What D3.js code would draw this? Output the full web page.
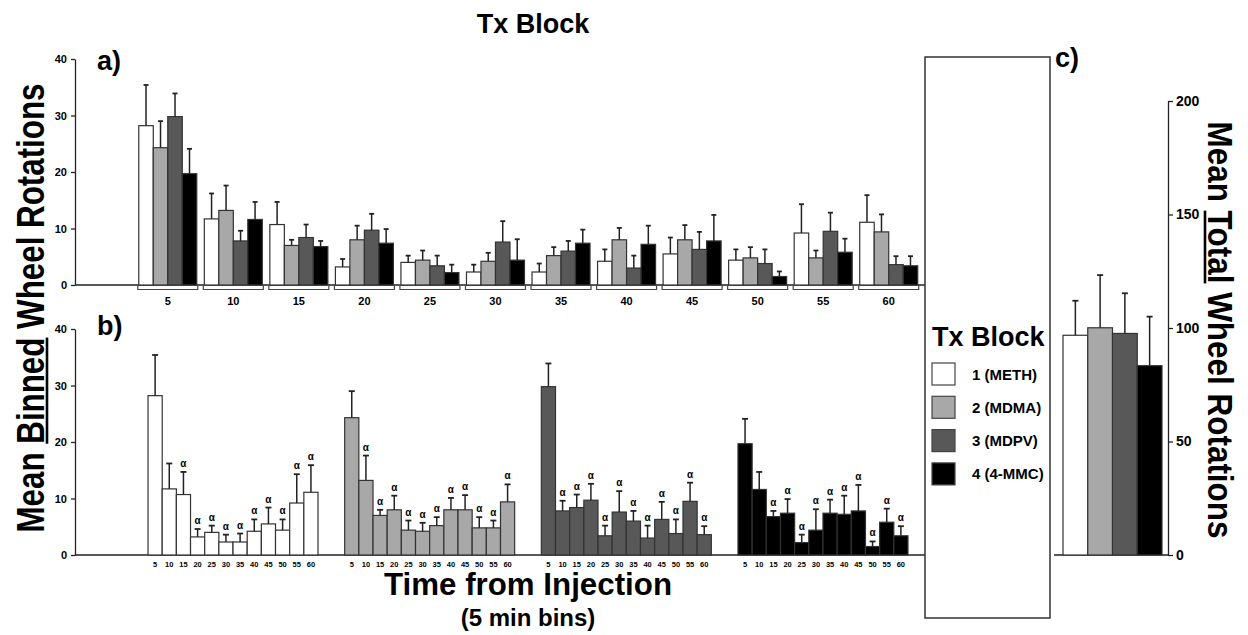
<!DOCTYPE html>
<html>
<head>
<meta charset="utf-8">
<script src="https://cdn.jsdelivr.net/npm/d3@7"></script>
<style>
body { margin: 0; background: #fff; }
text { font-family: "Liberation Sans", Arial, Helvetica, sans-serif; font-weight: bold; fill: #000; }
</style>
</head>
<body>
<div id="canvas"></div>
<script>
// ---- data ----
var bins = [5, 10, 15, 20, 25, 30, 35, 40, 45, 50, 55, 60];
var groups = ["1 (METH)", "2 (MDMA)", "3 (MDPV)", "4 (4-MMC)"];
var colors = ["#ffffff", "#a8a8a8", "#585858", "#000000"];

var meth      = [28.2, 11.7, 10.7, 3.2, 4.0, 2.3, 2.3, 4.2, 5.5, 4.4, 9.2, 11.1];
var methSem   = [7.2, 4.5, 4.0, 1.4, 1.2, 1.3, 1.5, 2.1, 2.9, 1.9, 5.1, 4.8];
var methAlpha = [0, 0, 1, 1, 1, 1, 1, 1, 1, 1, 1, 1];

var mdma      = [24.3, 13.2, 7.0, 8.0, 4.4, 4.2, 5.2, 8.0, 8.0, 4.8, 4.8, 9.4];
var mdmaSem   = [4.7, 4.4, 1.0, 2.5, 1.7, 1.5, 1.5, 2.1, 2.6, 1.9, 1.3, 3.1];
var mdmaAlpha = [0, 1, 1, 1, 1, 1, 1, 1, 1, 1, 1, 1];

var mdpv      = [29.8, 7.8, 8.4, 9.7, 3.4, 7.6, 6.0, 3.0, 6.3, 3.8, 9.5, 3.6];
var mdpvSem   = [4.1, 1.8, 2.3, 2.9, 1.8, 3.7, 1.8, 2.2, 3.1, 2.5, 3.3, 1.5];
var mdpvAlpha = [0, 1, 1, 1, 1, 1, 1, 1, 1, 1, 1, 1];

var mmc       = [19.7, 11.6, 6.8, 7.4, 2.2, 4.4, 7.4, 7.2, 7.8, 1.5, 5.8, 3.4];
var mmcSem    = [4.4, 3.1, 1.0, 2.5, 1.4, 3.7, 2.4, 3.3, 4.6, 0.9, 2.4, 1.7];
var mmcAlpha  = [0, 0, 1, 1, 1, 1, 1, 1, 1, 1, 1, 1];

var totalMean = [96.8, 100.1, 97.6, 83.4];
var totalSem  = [15.2, 23.2, 17.7, 21.6];

var binnedTicks = [0, 10, 20, 30, 40];
var totalTicks  = [0, 50, 100, 150, 200];

// ---- build flat table ----
var series = [
  {mean: meth, sem: methSem, alpha: methAlpha},
  {mean: mdma, sem: mdmaSem, alpha: mdmaAlpha},
  {mean: mdpv, sem: mdpvSem, alpha: mdpvAlpha},
  {mean: mmc,  sem: mmcSem,  alpha: mmcAlpha}
];
var cells = [];
series.forEach(function(s, j) {
  bins.forEach(function(b, i) {
    cells.push({g: groups[j], color: colors[j], bin: b, mean: s.mean[i], sem: s.sem[i], alpha: s.alpha[i]});
  });
});

var FONT = '"Liberation Sans", Arial, Helvetica, sans-serif';
var INK = "#222";

var svg = d3.select("#canvas").append("svg")
    .attr("width", 1248)
    .attr("height", 635);

// ---- helpers ----
function styleAxis(ax, size) {
  ax.attr("font-family", FONT).attr("font-size", size).attr("font-weight", "bold");
  ax.select(".domain").attr("stroke", INK).attr("stroke-width", 1.3);
  ax.selectAll(".tick line").attr("stroke", INK).attr("stroke-width", 1.3);
  ax.selectAll(".tick text").attr("fill", "#000");
}

function drawBars(g, data, xf, w, y, cap) {
  g.selectAll("rect.bar").data(data).enter().append("rect")
    .attr("class", "bar")
    .attr("x", xf)
    .attr("width", w)
    .attr("y", function(d) { return y(d.mean); })
    .attr("height", function(d) { return y(0) - y(d.mean); })
    .attr("fill", function(d) { return d.color; })
    .attr("stroke", "#333")
    .attr("stroke-width", 1.2);
  var eb = g.selectAll("g.err").data(data).enter().append("g").attr("class", "err");
  eb.append("line")
    .attr("x1", function(d) { return xf(d) + w / 2; })
    .attr("x2", function(d) { return xf(d) + w / 2; })
    .attr("y1", function(d) { return y(d.mean); })
    .attr("y2", function(d) { return y(d.mean + d.sem); })
    .attr("stroke", INK).attr("stroke-width", 1.5);
  eb.append("line")
    .attr("x1", function(d) { return xf(d) + w / 2 - cap / 2; })
    .attr("x2", function(d) { return xf(d) + w / 2 + cap / 2; })
    .attr("y1", function(d) { return y(d.mean + d.sem); })
    .attr("y2", function(d) { return y(d.mean + d.sem); })
    .attr("stroke", INK).attr("stroke-width", 1.8);
}

// rotated title with one underlined word
function sideTitle(x, y, angle, parts, ulIndex, size, len, ulOff) {
  var g = svg.append("g").attr("transform", "translate(" + x + "," + y + ") rotate(" + angle + ")");
  var t = g.append("text").attr("text-anchor", "middle").attr("font-size", size).text(parts.join(""));
  var natural = t.node().getComputedTextLength();
  var start = 0;
  for (var k = 0; k < ulIndex; k++) start += parts[k].length;
  var off = t.node().getSubStringLength(0, start);
  var wl = t.node().getSubStringLength(start, parts[ulIndex].length);
  var r = len / natural;
  t.attr("textLength", len).attr("lengthAdjust", "spacingAndGlyphs");
  g.append("line")
    .attr("x1", -len / 2 + off * r).attr("x2", -len / 2 + (off + wl) * r)
    .attr("y1", ulOff).attr("y2", ulOff)
    .attr("stroke", "#000").attr("stroke-width", 2.6);
}

// ================= panel a =================
var yA = d3.scaleLinear().domain([0, 40]).range([285, 59]);
var xA = d3.scaleBand().domain(bins).range([135, 921.5]).paddingInner(0.115).paddingOuter(0.0575);
var xAin = d3.scaleBand().domain(groups).range([0, xA.bandwidth()]);

var gA = svg.append("g");
gA.append("line").attr("x1", 75).attr("x2", 925).attr("y1", yA(0)).attr("y2", yA(0))
  .attr("stroke", INK).attr("stroke-width", 1.4);
drawBars(gA, cells, function(d) { return xA(d.bin) + xAin(d.g); }, xAin.bandwidth(), yA, 5);

var axA = gA.append("g").attr("transform", "translate(75,0)")
  .call(d3.axisLeft(yA).tickValues(binnedTicks).tickSize(4).tickSizeOuter(0).tickPadding(4));
styleAxis(axA, 11);

// group brackets + labels
var br = gA.selectAll("g.brk").data(bins).enter().append("g").attr("class", "brk");
br.append("path")
  .attr("d", function(b) {
    var x0 = xA(b) - 1, x1 = xA(b) + xA.bandwidth() + 1;
    return "M" + x0 + ",285.5V289.5H" + x1 + "V285.5";
  })
  .attr("fill", "none").attr("stroke", "#444").attr("stroke-width", 1.2);
br.append("text")
  .attr("x", function(b) { return xA(b) + xA.bandwidth() / 2; })
  .attr("y", 305)
  .attr("text-anchor", "middle")
  .attr("font-size", 11)
  .text(function(b) { return b; });

// ================= panel b =================
var yB = d3.scaleLinear().domain([0, 40]).range([555, 329]);
var xB = d3.scaleBand().domain(groups).range([134.7, 921.3]).paddingInner(0.1356).paddingOuter(0.0678);
var xBin = d3.scaleBand().domain(bins).range([0, xB.bandwidth()]);

var gB = svg.append("g");
gB.append("line").attr("x1", 75).attr("x2", 925).attr("y1", yB(0)).attr("y2", yB(0))
  .attr("stroke", INK).attr("stroke-width", 1.4);
var bx = function(d) { return xB(d.g) + xBin(d.bin); };
drawBars(gB, cells, bx, xBin.bandwidth(), yB, 6);

var axB = gB.append("g").attr("transform", "translate(75,0)")
  .call(d3.axisLeft(yB).tickValues(binnedTicks).tickSize(4).tickSizeOuter(0).tickPadding(4));
styleAxis(axB, 11);

gB.selectAll("text.al").data(cells.filter(function(d) { return d.alpha; })).enter().append("text")
  .attr("class", "al")
  .attr("x", function(d) { return bx(d) + xBin.bandwidth() / 2; })
  .attr("y", function(d) { return yB(d.mean + d.sem) - 5; })
  .attr("text-anchor", "middle")
  .attr("font-size", 10)
  .attr("font-weight", "normal")
  .attr("fill", "#333")
  .text("α");

gB.selectAll("text.bl").data(cells).enter().append("text")
  .attr("class", "bl")
  .attr("x", function(d) { return bx(d) + xBin.bandwidth() / 2; })
  .attr("y", 567)
  .attr("text-anchor", "middle")
  .attr("font-size", 7.5)
  .text(function(d) { return d.bin; });

// ================= legend box =================
svg.append("rect").attr("x", 925).attr("y", 57).attr("width", 125).attr("height", 561)
  .attr("fill", "none").attr("stroke", "#333").attr("stroke-width", 1.5);
svg.append("text").attr("x", 932).attr("y", 346).attr("font-size", 27).text("Tx Block");
var lg = svg.selectAll("g.lg").data(groups).enter().append("g").attr("class", "lg")
  .attr("transform", function(d, i) { return "translate(932," + (363 + i * 33.3) + ")"; });
lg.append("rect").attr("width", 23).attr("height", 22)
  .attr("fill", function(d, i) { return colors[i]; })
  .attr("stroke", "#444").attr("stroke-width", 1.2);
lg.append("text").attr("x", 40).attr("y", 16.5).attr("font-size", 15).text(function(d) { return d; });

// ================= panel c =================
var yC = d3.scaleLinear().domain([0, 200]).range([555, 101]);
var xC = d3.scaleBand().domain(groups).range([1063, 1162]);
var totals = groups.map(function(g, i) { return {g: g, color: colors[i], mean: totalMean[i], sem: totalSem[i]}; });

var gC = svg.append("g");
gC.append("line").attr("x1", 1054).attr("x2", 1168).attr("y1", yC(0)).attr("y2", yC(0))
  .attr("stroke", INK).attr("stroke-width", 1.4);
drawBars(gC, totals, function(d) { return xC(d.g); }, xC.bandwidth(), yC, 6);
var axC = gC.append("g").attr("transform", "translate(1168,0)")
  .call(d3.axisRight(yC).tickValues(totalTicks).tickSize(5).tickSizeOuter(0).tickPadding(3));
styleAxis(axC, 14);

// ================= titles =================
svg.append("text").attr("x", 533).attr("y", 33).attr("text-anchor", "middle").attr("font-size", 27).text("Tx Block");
svg.append("text").attr("x", 97).attr("y", 70).attr("font-size", 27).text("a)");
svg.append("text").attr("x", 97).attr("y", 335).attr("font-size", 27).text("b)");
svg.append("text").attr("x", 1055).attr("y", 67).attr("font-size", 27).text("c)");

svg.append("text").attr("x", 528).attr("y", 595).attr("text-anchor", "middle").attr("font-size", 31)
  .attr("textLength", 288).attr("lengthAdjust", "spacingAndGlyphs").text("Time from Injection");
svg.append("text").attr("x", 528).attr("y", 626).attr("text-anchor", "middle").attr("font-size", 24)
  .text("(5 min bins)");

sideTitle(44, 308, -90, ["Mean ", "Binned", " Wheel Rotations"], 1, 38, 449, 3);
sideTitle(1208, 330, 90, ["Mean ", "Total", " Wheel Rotations"], 1, 35, 417, 3);
</script>
</body>
</html>
